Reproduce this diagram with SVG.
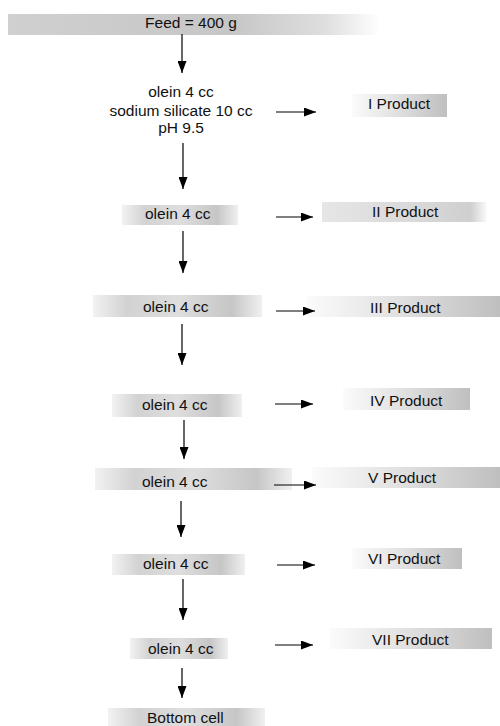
<svg xmlns="http://www.w3.org/2000/svg" width="500" height="726" viewBox="0 0 500 726">
<defs>
<linearGradient id="gFeed" x1="0" y1="0" x2="1" y2="0">
<stop offset="0" stop-color="#d0d0d0"/><stop offset="0.6" stop-color="#c6c6c6"/><stop offset="0.85" stop-color="#dedede"/><stop offset="1" stop-color="#ffffff"/>
</linearGradient>
<linearGradient id="gOlein" x1="0" y1="0" x2="1" y2="0">
<stop offset="0" stop-color="#f2f2f2"/><stop offset="0.2" stop-color="#d2d2d2"/><stop offset="0.5" stop-color="#dedede"/><stop offset="0.82" stop-color="#c6c6c6"/><stop offset="1" stop-color="#f0f0f0"/>
</linearGradient>
<linearGradient id="gProd" x1="0" y1="0" x2="1" y2="0">
<stop offset="0" stop-color="#fbfbfb"/><stop offset="0.45" stop-color="#e2e2e2"/><stop offset="1" stop-color="#bfbfbf"/>
</linearGradient>
<linearGradient id="gProd2" x1="0" y1="0" x2="1" y2="0">
<stop offset="0" stop-color="#e6e6e6"/><stop offset="0.6" stop-color="#d8d8d8"/><stop offset="0.9" stop-color="#cfcfcf"/><stop offset="1" stop-color="#fafafa"/>
</linearGradient>
<marker id="ah" viewBox="0 0 12 9" refX="12" refY="4.5" markerWidth="12" markerHeight="9" markerUnits="userSpaceOnUse" orient="auto">
<path d="M0,0 L12,4.5 L0,9 z" fill="#000"/>
</marker>
<style>
text{font-family:"Liberation Sans",Arial,sans-serif;font-size:15.5px;fill:#111}
.c{text-anchor:middle}
.conn line{stroke:#000;stroke-width:1.2;marker-end:url(#ah)}
</style>
</defs>

<g id="feed"><rect x="8" y="14" width="372" height="21" fill="url(#gFeed)"/><text x="191" y="28" class="c">Feed = 400 g</text></g>
<g id="stage1"><text x="181" y="97" class="c">olein 4 cc</text><text x="181" y="116" class="c">sodium silicate 10 cc</text><text x="181" y="133" class="c">pH 9.5</text></g>
<g id="p1"><rect x="352" y="94" width="95" height="23" fill="url(#gProd)"/><text x="368" y="109">I Product</text></g>

<g id="stage2"><rect x="122" y="205" width="116" height="20" fill="url(#gOlein)"/><text x="145" y="219">olein 4 cc</text></g>
<g id="p2"><rect x="322" y="202" width="165" height="20" fill="url(#gProd2)"/><text x="372" y="217">II Product</text></g>

<g id="stage3"><rect x="93" y="295" width="169" height="22" fill="url(#gOlein)"/><text x="143" y="312">olein 4 cc</text></g>
<g id="p3"><rect x="307" y="296" width="193" height="21" fill="url(#gProd)"/><text x="370" y="313">III Product</text></g>

<g id="stage4"><rect x="112" y="394" width="130" height="23" fill="url(#gOlein)"/><text x="142" y="410">olein 4 cc</text></g>
<g id="p4"><rect x="343" y="388" width="127" height="22" fill="url(#gProd)"/><text x="370" y="406">IV Product</text></g>

<g id="stage5"><rect x="95" y="468" width="197" height="22" fill="url(#gOlein)"/><text x="142" y="487">olein 4 cc</text></g>
<g id="p5"><rect x="312" y="467" width="188" height="21" fill="url(#gProd)"/><text x="368" y="483">V Product</text></g>

<g id="stage6"><rect x="112" y="554" width="133" height="21" fill="url(#gOlein)"/><text x="143" y="569">olein 4 cc</text></g>
<g id="p6"><rect x="352" y="548" width="110" height="21" fill="url(#gProd)"/><text x="368" y="564">VI Product</text></g>

<g id="stage7"><rect x="130" y="638" width="98" height="21" fill="url(#gOlein)"/><text x="148" y="654">olein 4 cc</text></g>
<g id="p7"><rect x="330" y="628" width="162" height="21" fill="url(#gProd)"/><text x="372" y="645">VII Product</text></g>

<g id="bottom"><rect x="108" y="708" width="157" height="18" fill="url(#gOlein)"/><text x="147" y="723">Bottom cell</text></g>

<g id="connectors" class="conn">
<line x1="182" y1="34" x2="182" y2="73"/>
<line x1="183" y1="143" x2="183" y2="189"/>
<line x1="183" y1="231" x2="183" y2="273"/>
<line x1="182" y1="324" x2="182" y2="365"/>
<line x1="184" y1="420" x2="184" y2="459"/>
<line x1="181" y1="501" x2="181" y2="537"/>
<line x1="183" y1="579" x2="183" y2="620"/>
<line x1="182" y1="668" x2="182" y2="698"/>
<line x1="276" y1="112" x2="316" y2="112"/>
<line x1="276" y1="217" x2="313" y2="217"/>
<line x1="276" y1="311" x2="315" y2="311"/>
<line x1="275" y1="404" x2="313" y2="404"/>
<line x1="274" y1="485" x2="316" y2="485"/>
<line x1="277" y1="565" x2="315" y2="565"/>
<line x1="275" y1="645" x2="313" y2="645"/>
</g>
</svg>
